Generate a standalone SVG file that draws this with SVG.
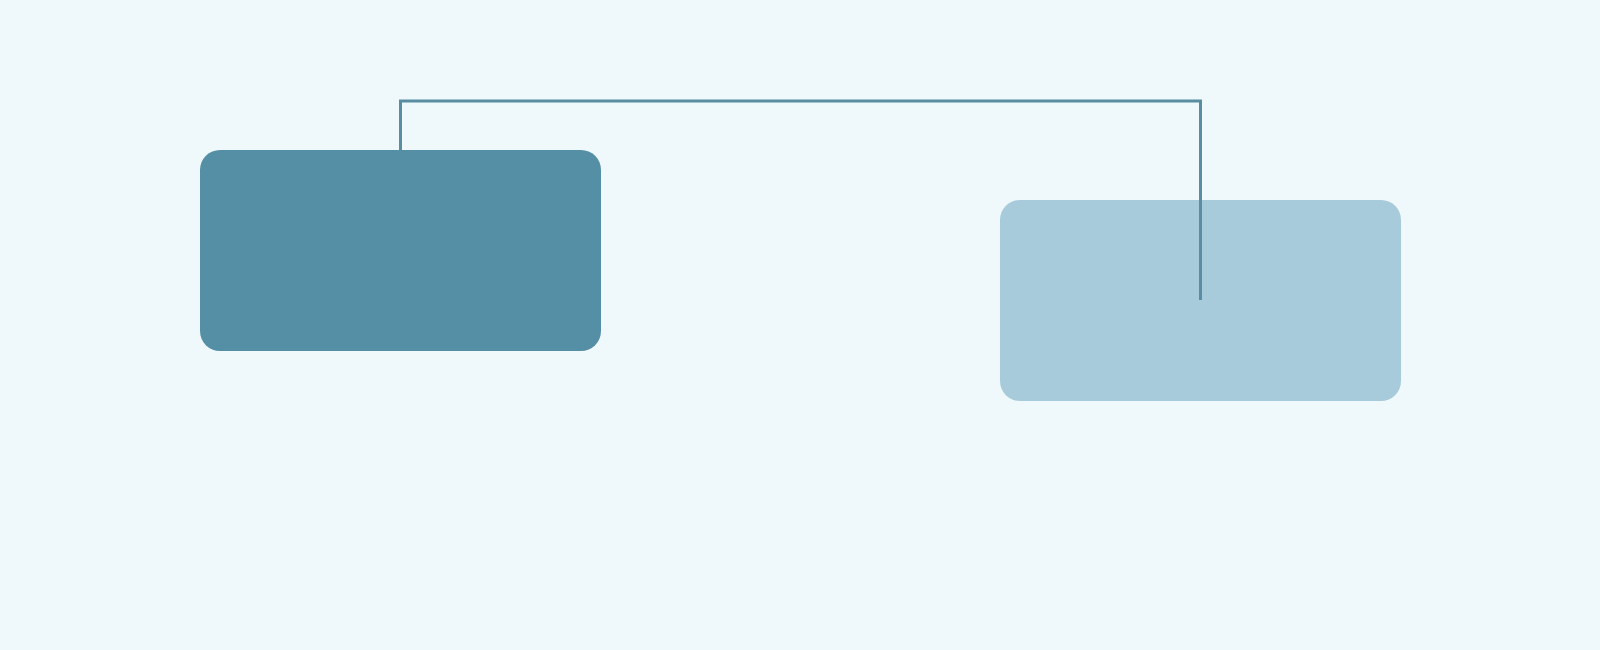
<svg xmlns="http://www.w3.org/2000/svg" width="1600" height="650" viewBox="0 0 1600 650">
  <style>
    .node { stroke: none; }
    .conn { fill: none; stroke: #588da2; stroke-width: 3; stroke-linejoin: miter; }
  </style>
  <rect x="0" y="0" width="1600" height="650" fill="#eff8fa"/>
  <g id="node-a">
    <rect class="node" x="200" y="150" width="401" height="201" rx="20" ry="20" fill="#558fa6"/>
  </g>
  <g id="node-b">
    <rect class="node" x="1000" y="200" width="401" height="201" rx="20" ry="20" fill="#a7cbdb"/>
  </g>
  <g id="connectors">
    <path class="conn" d="M400.5,150 V101 H1200.5 V300"/>
  </g>
</svg>
